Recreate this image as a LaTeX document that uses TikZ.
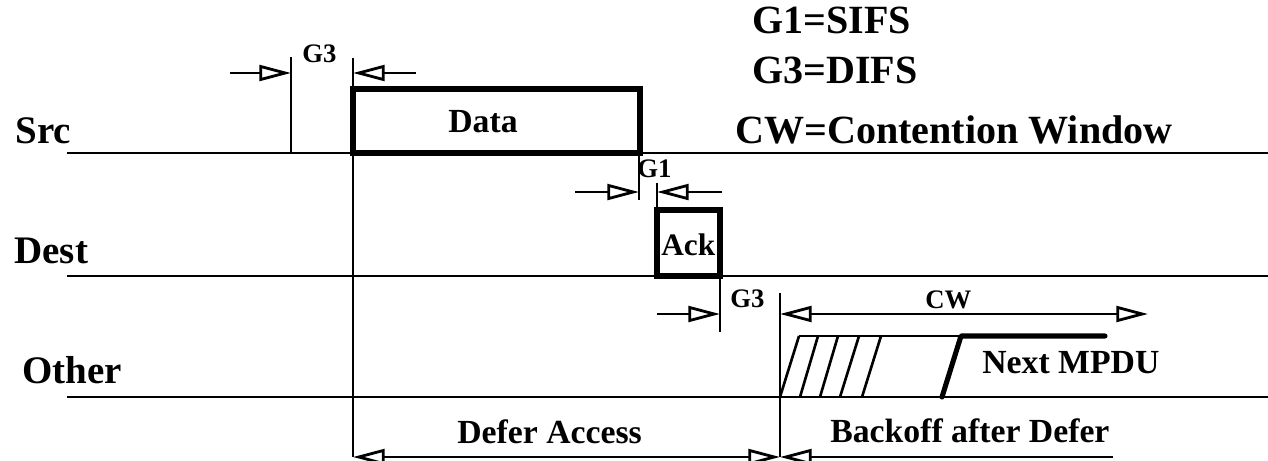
\documentclass[tikz,border=0pt]{standalone}
\usepackage{fontspec}
\setmainfont{Liberation Serif}
\usepackage{tikz}
\usetikzlibrary{arrows.meta}
\tikzset{
  lane/.style={draw=black,line width=1.7pt},
  pkt/.style={draw=black,line width=2.9pt},
  bar/.style={draw=black,line width=1.6pt},
  gap/.style={draw=black,line width=1.6pt,-{Triangle[open,length=18pt,width=9pt]}},
  both/.style={draw=black,line width=1.6pt,{Triangle[open,length=18pt,width=9pt]}-{Triangle[open,length=18pt,width=9pt]}},
  hatch/.style={draw=black,line width=1.5pt},
}
\tikzset{lab/.style={anchor=base west,inner sep=0pt,font=\bfseries\fontsize{22.2pt}{24pt}\selectfont},
  legend/.style={lab,font=\bfseries\fontsize{22.8pt}{24pt}\selectfont},
  mid/.style={lab,font=\bfseries\fontsize{19.2pt}{21pt}\selectfont},
  small/.style={lab,font=\bfseries\fontsize{15.2pt}{17pt}\selectfont}}

\begin{document}
\begin{tikzpicture}[x=0.02cm,y=-0.02cm]
\useasboundingbox (0,0) rectangle (1268,460);
\coordinate (s0) at (67,153);
\coordinate (s1) at (1268,153);
\coordinate (d0) at (67,276);
\coordinate (d1) at (1268,276);
\coordinate (o0) at (67,397);
\coordinate (o1) at (1268,397);
\draw[lane] (s0)--(s1);
\draw[lane] (d0)--(d1);
\draw[lane] (o0)--(o1);
\coordinate (data0) at (353,89);
\coordinate (data1) at (640,153);
\coordinate (ack0) at (657,210);
\coordinate (ack1) at (720,276);
\coordinate (ga) at (291,57);
\coordinate (gb) at (291,153);
\coordinate (da) at (353,58);
\coordinate (db) at (353,457);
\coordinate (ha) at (639,153);
\coordinate (hb) at (639,200);
\coordinate (hc) at (657,183);
\coordinate (hd) at (657,210);
\coordinate (ka) at (720,276);
\coordinate (kb) at (720,332);
\coordinate (ca) at (780,293);
\coordinate (cb) at (780,457);
\draw[bar] (ga)--(gb);
\draw[bar] (da)--(db);
\draw[bar] (ha)--(hb);
\draw[bar] (hc)--(hd);
\draw[bar] (ka)--(kb);
\draw[bar] (ca)--(cb);
\draw[pkt] (data0) rectangle (data1);
\draw[pkt] (ack0) rectangle (ack1);
\coordinate (g3l) at (230,73);
\coordinate (g3lt) at (291,73);
\coordinate (g3r) at (416,73);
\coordinate (g3rt) at (353,73);
\coordinate (g1l) at (575,192);
\coordinate (g1lt) at (639,192);
\coordinate (g1r) at (722,192);
\coordinate (g1rt) at (657,192);
\coordinate (g3m) at (657,314);
\coordinate (g3mt) at (720,314);
\coordinate (cw0) at (780,314);
\coordinate (cw1) at (1148,314);
\coordinate (df0) at (353,457);
\coordinate (df1) at (780,457);
\coordinate (bk1) at (1113,457);
\draw[gap] (g3l)--(g3lt);
\draw[gap] (g3r)--(g3rt);
\draw[gap] (g1l)--(g1lt);
\draw[gap] (g1r)--(g1rt);
\draw[gap] (g3m)--(g3mt);
\draw[both] (cw0)--(cw1);
\draw[both] (df0)--(df1);
\draw[gap] (bk1)--(df1);
\foreach \b/\t in {780/799,800/818,820/838,840/859,862/881}
  \draw[hatch] (\b,397)--(\t,336);
\coordinate (nx0) at (799,336);
\coordinate (nx1) at (961,336);
\coordinate (nx2) at (942,397);
\coordinate (nx3) at (1105,336);
\draw[hatch] (nx0)--(nx1);
\draw[pkt,line cap=round,line join=round] (nx2)--(nx1)--(nx3);
\node[legend] (leg1) at (752,33) {G1=SIFS};
\node[legend] (leg3) at (752,83) {G3=DIFS};
\node[legend] (legcw) at (735,143) {CW=Contention Window};
\node[lab] (src) at (15,143) {Src};
\node[lab] (dest) at (14,263) {Dest};
\node[lab] (other) at (22,383) {Other};
\node[small] (g3top) at (302,62) {G3};
\node[mid] (data) at (448,132) {Data};
\node[small] (g1) at (637,177) {G1};
\node[mid,font=\bfseries\fontsize{17.8pt}{19pt}\selectfont] (ack) at (661,255) {Ack};
\node[small] (g3low) at (730,307) {G3};
\node[small] (cw) at (925,308) {CW};
\node[mid] (next) at (982,373) {Next MPDU};
\node[mid] (defer) at (457,443) {Defer Access};
\node[mid] (backoff) at (830,442) {Backoff after Defer};
\end{tikzpicture}
\end{document}
